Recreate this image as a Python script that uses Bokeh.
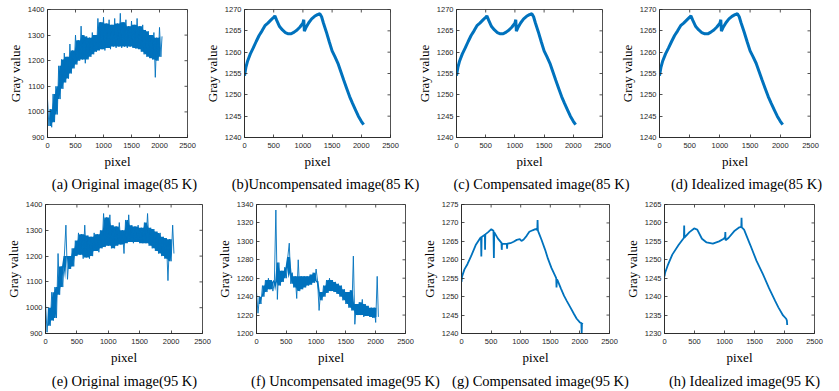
import math
import numpy as np
from bokeh.plotting import figure
from bokeh.models import Range1d, FixedTicker, ColumnDataSource
from bokeh.core.properties import value
from bokeh.layouts import row, column
from bokeh.embed import file_html
from bokeh.resources import INLINE

# ---------------- data ----------------
x_ticks = [0, 500, 1000, 1500, 2000, 2500]
y_ticks_orig = [900, 1000, 1100, 1200, 1300, 1400]
y_ticks_85 = [1240, 1245, 1250, 1255, 1260, 1265, 1270]
y_ticks_f = [1200, 1220, 1240, 1260, 1280, 1300, 1320, 1340]
y_ticks_g = [1240, 1245, 1250, 1255, 1260, 1265, 1270, 1275]
y_ticks_h = [1230, 1235, 1240, 1245, 1250, 1255, 1260, 1265]

# pixel positions of the noisy profiles
px_noisy = [0, 25, 50, 75, 100, 125, 150, 175, 200, 225, 250, 275, 300, 325, 350,
            375, 400, 425, 450, 475, 500, 525, 550, 575, 600, 625, 650, 675, 700,
            725, 750, 775, 800, 825, 850, 875, 900, 925, 950, 975, 1000, 1025, 1050,
            1075, 1100, 1125, 1150, 1175, 1200, 1225, 1250, 1275, 1300, 1325, 1350,
            1375, 1400, 1425, 1450, 1475, 1500, 1525, 1550, 1575, 1600, 1625, 1650,
            1675, 1700, 1725, 1750, 1775, 1800, 1825, 1850, 1875, 1900, 1925, 1950,
            1975, 2000, 2025, 2045]

orig_85 = [1050, 945, 1010, 940, 1070, 960, 1100, 990, 1180, 1050,
           1205, 1090, 1230, 1115, 1215, 1130, 1265, 1150, 1240, 1170,
           1300, 1185, 1280, 1200, 1335, 1205, 1300, 1190, 1295, 1205,
           1290, 1215, 1310, 1225, 1300, 1235, 1365, 1240, 1350, 1245,
           1370, 1240, 1345, 1250, 1360, 1245, 1340, 1255, 1365, 1250,
           1345, 1255, 1385, 1250, 1350, 1255, 1360, 1250, 1335, 1255,
           1355, 1250, 1340, 1248, 1365, 1245, 1335, 1235, 1340, 1225,
           1320, 1215, 1315, 1210, 1300, 1205, 1310, 1135, 1290, 1200,
           1330, 1215, 1295]

orig_95 = [1015, 905, 1000, 930, 1060, 950, 1080, 960, 1210, 1050,
           1160, 1080, 1200, 1320, 1110, 1200, 1150, 1230, 1160, 1260,
           1200, 1290, 1205, 1285, 1190, 1320, 1195, 1280, 1190, 1275,
           1200, 1290, 1220, 1285, 1215, 1300, 1230, 1365, 1235, 1350,
           1240, 1360, 1230, 1320, 1230, 1315, 1240, 1330, 1245, 1300,
           1210, 1340, 1250, 1360, 1255, 1320, 1250, 1315, 1255, 1320,
           1250, 1310, 1250, 1330, 1250, 1365, 1240, 1310, 1230, 1305,
           1220, 1295, 1210, 1290, 1200, 1275, 1190, 1270, 1105, 1265,
           1180, 1320, 1210]

uncomp_95 = [1245, 1222, 1240, 1232, 1252, 1240, 1258, 1245, 1260, 1248,
             1258, 1246, 1256, 1334, 1237, 1277, 1252, 1268, 1256, 1272,
             1260, 1283, 1298, 1254, 1266, 1250, 1262, 1238, 1280, 1246,
             1262, 1248, 1262, 1250, 1262, 1252, 1264, 1253, 1266, 1255,
             1270, 1257, 1225, 1245, 1236, 1252, 1240, 1258, 1244, 1260,
             1246, 1258, 1245, 1256, 1243, 1254, 1240, 1252, 1236, 1248,
             1232, 1245, 1228, 1247, 1225, 1284, 1210, 1232, 1220, 1234,
             1220, 1237, 1218, 1232, 1219, 1230, 1218, 1228, 1217, 1228,
             1212, 1262, 1218]

# 85 K smooth profile (uncompensated / compensated / idealized look alike)
px_85 = [0, 25, 50, 100, 150, 200, 250, 300, 350, 400, 450, 500, 520, 550, 600,
         650, 700, 750, 800, 850, 900, 950, 1000, 1015, 1025, 1050, 1100, 1150,
         1200, 1250, 1290, 1320, 1350, 1400, 1450, 1500, 1550, 1600, 1650, 1700,
         1750, 1800, 1850, 1900, 1950, 2000, 2040]
gray_85 = [1254.5, 1256.5, 1257.8, 1259.6, 1261.0, 1262.5, 1263.9, 1265.0, 1266.2,
           1266.8, 1267.5, 1268.2, 1268.5, 1267.5, 1266.0, 1265.2, 1264.6, 1264.3,
           1264.3, 1264.7, 1265.2, 1265.9, 1266.8, 1267.6, 1264.9, 1265.7, 1266.9,
           1267.8, 1268.4, 1268.8, 1269.0, 1268.3, 1266.9, 1264.8, 1262.5, 1260.3,
           1258.9, 1257.4, 1255.4, 1253.4, 1251.5, 1249.6, 1248.0, 1246.5, 1245.0,
           1243.8, 1243.0]

# 95 K compensated
px_95c = [0, 10, 50, 100, 160, 240, 320, 330, 335, 340, 395, 398, 402, 450, 504,
          540, 547, 552, 613, 675, 680, 685, 693, 765, 770, 775, 826, 880, 933, 985,
          1013, 1050, 1100, 1146, 1200, 1248, 1280, 1285, 1290, 1301, 1350, 1413,
          1460, 1519, 1600, 1605, 1612, 1626, 1680, 1733, 1780, 1839, 1900, 1946,
          2000, 2025, 2030, 2035, 2045]
gray_95c = [1254.0, 1255.5, 1257.4, 1258.8, 1260.9, 1264.0, 1266.0, 1266.1, 1260.9,
            1266.2, 1266.8, 1262.7, 1266.9, 1267.5, 1268.3, 1267.9, 1260.5, 1267.5,
            1265.8, 1264.6, 1262.7, 1264.4, 1264.3, 1264.3, 1263.0, 1264.4, 1264.5,
            1264.9, 1265.4, 1265.6, 1265.1, 1265.5, 1266.5, 1267.6, 1268.0, 1268.3,
            1268.1, 1270.8, 1268.0, 1267.5, 1265.5, 1262.7, 1260.3, 1257.8, 1255.0,
            1252.5, 1254.7, 1254.3, 1252.2, 1250.2, 1248.8, 1247.1, 1245.3, 1244.0,
            1243.0, 1242.8, 1240.0, 1242.8, 1242.5]

# 95 K idealized
px_95i = [0, 10, 52, 130, 234, 312, 324, 328, 332, 416, 494, 546, 624, 702, 806,
          910, 988, 1010, 1014, 1018, 1066, 1170, 1248, 1280, 1284, 1288, 1326, 1430,
          1534, 1638, 1742, 1846, 1898, 1976, 2028, 2040, 2045]
gray_95i = [1245.5, 1246.5, 1248.4, 1251.4, 1254.0, 1255.7, 1256.0, 1259.3, 1256.0,
            1257.5, 1258.5, 1258.2, 1255.7, 1254.7, 1254.4, 1255.0, 1255.7, 1256.2,
            1257.5, 1255.3, 1255.9, 1257.9, 1258.8, 1258.9, 1261.4, 1258.8, 1258.2,
            1254.0, 1249.7, 1246.2, 1242.3, 1238.8, 1237.1, 1234.9, 1234.0, 1233.5,
            1232.3]

captions_85 = ["(a) Original image(85 K)", "(b)Uncompensated image(85 K)",
               "(c) Compensated image(85 K)", "(d) Idealized image(85 K)"]
captions_95 = ["(e) Original image(95 K)", "(f) Uncompensated image(95 K)",
               "(g) Compensated image(95 K)", "(h) Idealized image(95 K)"]

# ---------------- styling / layout ----------------
BLUE = "#0072BD"
AXC = "#262626"
SERIF = "Liberation Serif"
SANS = "Liberation Sans"
PAGE_W = 839
caption_x_85 = [124, 325, 541, 746]   # caption centres on the page (px)
caption_x_95 = [124, 345, 540, 744]


def style_axis(ax, label, label_standoff, title_standoff):
    ax.axis_line_color = AXC
    ax.axis_line_width = 0.8
    ax.major_tick_line_color = AXC
    ax.major_tick_line_width = 0.8
    ax.major_tick_in = 3
    ax.major_tick_out = 0
    ax.minor_tick_line_color = None
    ax.major_label_text_font = SANS
    ax.major_label_text_font_size = "7.5px"
    ax.major_label_text_color = AXC
    ax.major_label_standoff = label_standoff
    ax.axis_label = label
    ax.axis_label_text_font = SERIF
    ax.axis_label_text_font_size = "13px"
    ax.axis_label_text_font_style = "normal"
    ax.axis_label_text_color = "black"
    ax.axis_label_standoff = title_standoff


def noisy_core(xs, ys):
    """Solid core of a noisy trace: inner envelope over 4 neighbouring samples."""
    xw = np.lib.stride_tricks.sliding_window_view(np.asarray(xs, float), 4).mean(axis=1)
    yw = np.sort(np.lib.stride_tricks.sliding_window_view(np.asarray(ys, float), 4), axis=1)
    return xw, yw[:, 1], yw[:, 2]


def panel(xs, ys, y_lo, y_hi, y_ticks, lw, w, h, bl, br, bt, bb, noisy=False):
    p = figure(width=w, height=h, output_backend="svg", toolbar_location=None,
               x_range=Range1d(0, 2500), y_range=Range1d(y_lo, y_hi),
               min_border_left=bl, min_border_right=br,
               min_border_top=bt, min_border_bottom=bb)
    if noisy:
        cx, clo, chi = noisy_core(xs, ys)
        p.varea(x=cx, y1=clo, y2=chi, fill_color=BLUE, fill_alpha=1.0)
    p.line(xs, ys, line_color=BLUE, line_width=lw)
    # mirrored inward ticks on the top and right edges (MATLAB box)
    p.ray(x=x_ticks, y=[y_hi] * len(x_ticks), length=3, length_units="screen",
          angle=-math.pi / 2, line_color=AXC, line_width=0.8)
    p.ray(x=[2500] * len(y_ticks), y=y_ticks, length=3, length_units="screen",
          angle=math.pi, line_color=AXC, line_width=0.8)
    p.xgrid.visible = False
    p.ygrid.visible = False
    p.outline_line_color = AXC
    p.outline_line_width = 0.8
    p.background_fill_color = "white"
    p.border_fill_color = "white"
    p.xaxis.ticker = FixedTicker(ticks=x_ticks)
    p.yaxis.ticker = FixedTicker(ticks=y_ticks)
    style_axis(p.xaxis[0], "pixel", 5, 3)
    style_axis(p.yaxis[0], "Gray value", 3, 2)
    return p


def caption_strip(xs, texts, h):
    p = figure(width=PAGE_W, height=h, output_backend="svg", toolbar_location=None,
               x_range=Range1d(0, PAGE_W), y_range=Range1d(0, 1),
               x_axis_type=None, y_axis_type=None,
               min_border_left=0, min_border_right=0, min_border_top=0, min_border_bottom=0)
    p.xgrid.visible = False
    p.ygrid.visible = False
    p.outline_line_color = None
    p.background_fill_color = "white"
    p.border_fill_color = "white"
    src = ColumnDataSource(dict(x=xs, y=[0.5] * len(xs), t=texts))
    p.text(x="x", y="y", text="t", source=src, text_align="center",
           text_baseline="middle", text_font=value(SERIF), text_font_size="14.5px",
           text_color="black")
    return p


H1 = 173
pa = panel(px_noisy, orig_85, 900, 1400, y_ticks_orig, 0.9, 201, H1, 47, 14, 7, 35, noisy=True)
pb = panel(px_85, gray_85, 1240, 1270, y_ticks_85, 3.0, 212, H1, 32, 23, 9, 33)
pc = panel(px_85, gray_85, 1240, 1270, y_ticks_85, 3.0, 203, H1, 32, 14, 7, 36)
pd = panel(px_85, gray_85, 1240, 1270, y_ticks_85, 3.0, 223, H1, 34, 29, 6, 34)
cap1 = caption_strip(caption_x_85, captions_85, 20)

H2 = 178
pe = panel(px_noisy, orig_95, 900, 1400, y_ticks_orig, 0.9, 213, H2, 45, 11, 11, 37, noisy=True)
pf = panel(px_noisy, uncomp_95, 1200, 1340, y_ticks_f, 0.9, 205, H2, 34, 13, 10, 36, noisy=True)
pg = panel(px_95c, gray_95c, 1240, 1275, y_ticks_g, 1.8, 203, H2, 34, 12, 9, 38)
ph = panel(px_95i, gray_95i, 1230, 1265, y_ticks_h, 1.8, 218, H2, 34, 25, 8, 35)
cap2 = caption_strip(caption_x_95, captions_95, 18)

layout = column(row(pa, pb, pc, pd), cap1, row(pe, pf, pg, ph), cap2)

open("out.html", "w").write(file_html(layout, INLINE))
